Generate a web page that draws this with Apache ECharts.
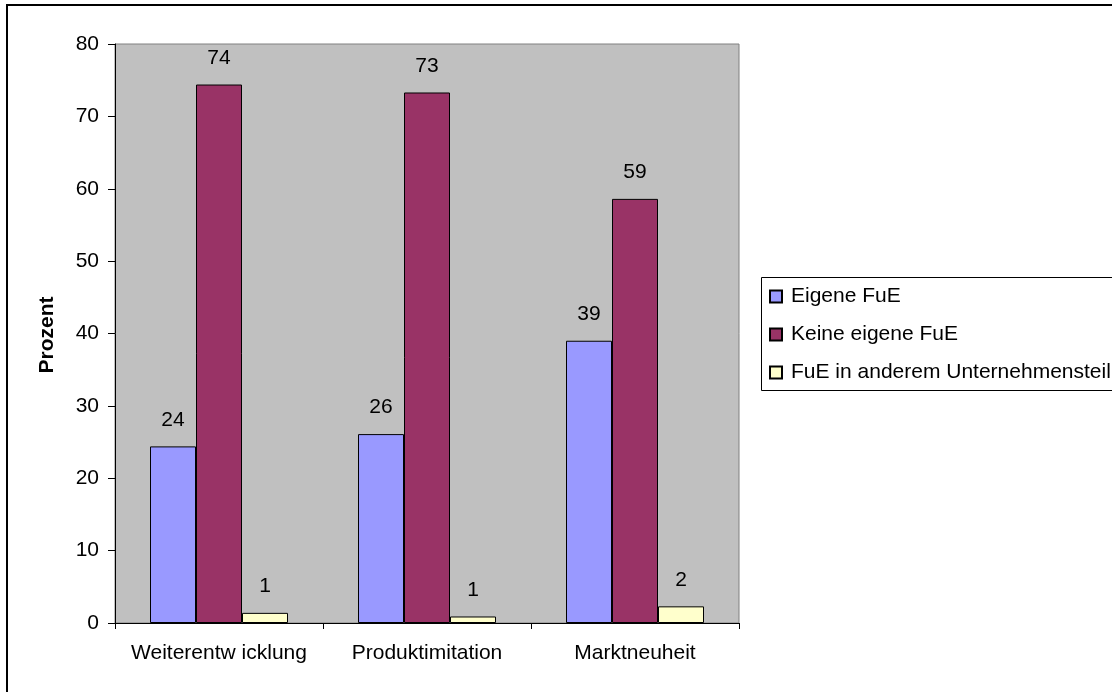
<!DOCTYPE html>
<html>
<head>
<meta charset="utf-8">
<script src="https://cdn.jsdelivr.net/npm/echarts@6/dist/echarts.min.js"></script>
<style>
html,body{margin:0;padding:0;background:#fff;}
#chart{width:1112px;height:692px;}
</style>
</head>
<body>
<div id="chart"></div>
<script>
const categories = ['Weiterentw icklung', 'Produktimitation', 'Marktneuheit'];
const seriesNames = ['Eigene FuE', 'Keine eigene FuE', 'FuE in anderem Unternehmensteil'];
const eigeneFuE = [24.4, 26.1, 39.0];
const keineEigeneFuE = [74.4, 73.3, 58.6];
const fueAndererTeil = [1.4, 0.9, 2.3];
const yTicks = [0, 10, 20, 30, 40, 50, 60, 70, 80];
const yAxisTitle = 'Prozent';

const colors = ['#9999FF', '#993366', '#FFFFCC'];
const FONT = '"Liberation Sans", Arial, sans-serif';
const values = [eigeneFuE, keineEigeneFuE, fueAndererTeil];

const chart = echarts.init(document.getElementById('chart'), null, {renderer: 'canvas'});
chart.setOption({
  animation: false,
  backgroundColor: '#ffffff',
  textStyle: {fontFamily: FONT},
  graphic: [
    {type: 'rect', shape: {x: 7, y: 5, width: 2000, height: 2000},
     style: {fill: 'none', stroke: '#000', lineWidth: 2}, z: 100},
    {type: 'rect', shape: {x: 761.5, y: 277.5, width: 600, height: 113},
     style: {fill: 'none', stroke: '#000', lineWidth: 1}, z: 100},
    {type: 'text', x: 47, y: 335, rotation: Math.PI / 2,
     style: {text: yAxisTitle, font: 'bold 21px ' + FONT, fill: '#000',
             textAlign: 'center', textVerticalAlign: 'middle'}}
  ],
  grid: {left: 115, top: 44, width: 624, height: 579, show: true,
         backgroundColor: '#C0C0C0', borderColor: '#808080', borderWidth: 1},
  legend: {
    orient: 'vertical', left: 761, top: 277,
    data: seriesNames,
    itemWidth: 12, itemHeight: 12, itemGap: 17,
    padding: [9, 0, 9, 8],
    borderWidth: 0,
    textStyle: {fontSize: 21, color: '#000', fontFamily: FONT, lineHeight: 21, padding: [0, 0, 0, 4]},
    icon: 'rect'
  },
  xAxis: {
    type: 'category', data: categories,
    axisLine: {show: true, lineStyle: {color: '#000', width: 1}},
    axisTick: {show: true, alignWithLabel: false, length: 6, lineStyle: {color: '#000'}},
    axisLabel: {fontSize: 21, color: '#000', margin: 20, fontFamily: FONT, interval: 0},
    splitLine: {show: false}
  },
  yAxis: {
    type: 'value', min: yTicks[0], max: yTicks[yTicks.length - 1], interval: 10,
    axisLine: {show: true, lineStyle: {color: '#000', width: 1}},
    axisTick: {show: true, length: 7, lineStyle: {color: '#000'}},
    axisLabel: {fontSize: 21, color: '#000', margin: 16, fontFamily: FONT},
    splitLine: {show: false}
  },
  series: seriesNames.map((name, i) => ({
    name: name, type: 'bar', data: values[i],
    barWidth: 46, barGap: '0%',
    itemStyle: {color: colors[i], borderColor: '#000', borderWidth: 1},
    label: {show: true, position: 'top', distance: 16, fontSize: 21, color: '#000',
            fontFamily: FONT, formatter: p => String(Math.round(p.value))}
  }))
});
</script>
</body>
</html>
